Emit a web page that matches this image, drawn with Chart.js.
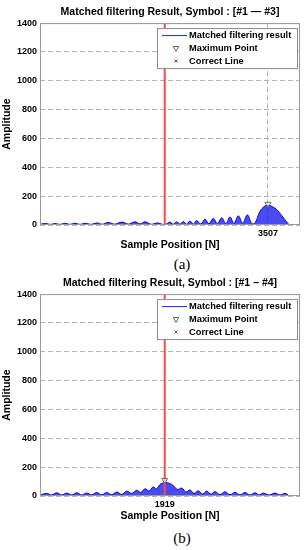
<!DOCTYPE html>
<html>
<head>
<meta charset="utf-8">
<script src="https://cdn.jsdelivr.net/npm/chart.js@4.4.1/dist/chart.umd.min.js"></script>
<style>
  body { margin: 0; background: #fff; }
  #wrap { position: relative; width: 307px; height: 550px; }
  .panel { position: absolute; left: 0; width: 307px; height: 256px; }
  .caption { position: absolute; left: 162px; width: 40px; text-align: center;
             font: 15px "Liberation Serif", "DejaVu Serif", serif; line-height: 15px; color: #000; }
</style>
</head>
<body>
<div id="wrap">
  <div class="panel" style="top:0px"><canvas id="chartA"></canvas></div>
  <div class="caption" style="top:257px">(a)</div>
  <div class="panel" style="top:271px"><canvas id="chartB"></canvas></div>
  <div class="caption" style="top:531px">(b)</div>
</div>
<script>
// Shared axis settings
const xMin = 0;
const xMax = 4000;
const yMax = 1400;
const yStep = 200;
const correctPos = 1919;
const legendLabels = ['Matched filtering result', 'Maximum Point', 'Correct Line'];

// (a) symbols #1 - #3 : envelope of the filter output (sample, amplitude)
const aTitle = 'Matched filtering Result, Symbol : [#1 \u2014 #3]';
const aSamples = [0, 92, 160, 231, 310, 385, 460, 538, 615, 692,
                  785, 877, 960, 1046, 1150, 1262, 1360, 1462, 1540, 1615,
                  1710, 1800, 1919, 2000, 2050, 2103, 2155, 2205, 2255, 2308,
                  2360, 2410, 2475, 2538, 2600, 2666, 2730, 2795, 2860, 2923,
                  2985, 3051, 3120, 3189, 3260, 3310, 3385, 3450, 3507, 3570,
                  3640, 3720, 3780, 3830];
const aAmp = [5, 10, 4, 10, 4, 12, 4, 12, 4, 12,
              4, 14, 5, 18, 6, 20, 6, 22, 7, 22,
              5, 14, 3, 20, 5, 22, 5, 24, 5, 27,
              6, 30, 7, 38, 8, 45, 9, 50, 10, 55,
              11, 63, 12, 70, 10, 15, 95, 128, 138, 128,
              108, 65, 30, 2];
const aMaxPos = 3507;
const aMaxAmp = 145;

// (b) symbols #1 - #4
const bTitle = 'Matched filtering Result, Symbol : [#1 \u2013 #4]';
const bSamples = [0, 103, 180, 257, 334, 411, 488, 565, 641, 718,
                  795, 872, 949, 1026, 1103, 1180, 1257, 1334, 1411, 1488,
                  1550, 1615, 1680, 1738, 1795, 1846, 1919, 1990, 2050, 2115,
                  2180, 2245, 2308, 2370, 2435, 2500, 2565, 2630, 2692, 2770,
                  2846, 2923, 3000, 3077, 3154, 3231, 3308, 3370, 3435, 3525,
                  3615, 3690, 3769, 3830];
const bAmp = [7, 18, 7, 22, 7, 20, 7, 22, 7, 20,
              8, 24, 8, 24, 9, 27, 11, 34, 18, 40,
              25, 50, 35, 62, 50, 80, 92, 88, 72, 45,
              55, 28, 42, 17, 36, 14, 34, 12, 30, 10,
              29, 9, 25, 8, 24, 7, 22, 7, 20, 7,
              20, 7, 18, 2];
const bMaxPos = 1919;
const bMaxAmp = 110;

const fontFamily = '"Liberation Sans", Arial, sans-serif';

// Axes frame plus the boxed legend in the upper right corner
const frameAndLegend = {
    id: 'frameAndLegend',
    afterDatasetsDraw(chart) {
        const { ctx, chartArea: a } = chart;
        ctx.save();
        ctx.setLineDash([]);
        ctx.lineWidth = 1;
        ctx.strokeStyle = '#9a9a9a';
        ctx.strokeRect(a.left + 0.5, a.top + 0.5, a.width - 1, a.height - 1);

        const bx = a.right - 143, by = a.top + 5, bw = 140, bh = 40;
        ctx.fillStyle = '#fff';
        ctx.fillRect(bx, by, bw, bh);
        ctx.strokeStyle = '#8a8a8a';
        ctx.strokeRect(bx + 0.5, by + 0.5, bw, bh);

        const rows = [by + 7, by + 20, by + 33];
        const symX = bx + 19;

        // line sample
        ctx.strokeStyle = '#2020ff';
        ctx.beginPath();
        ctx.moveTo(bx + 5, rows[0] + 0.5);
        ctx.lineTo(bx + 30, rows[0] + 0.5);
        ctx.stroke();

        // triangle marker
        ctx.strokeStyle = '#666';
        ctx.fillStyle = '#fff';
        Chart.helpers.drawPoint(ctx, { pointStyle: 'triangle', rotation: 180, radius: 3.2, borderWidth: 1 }, symX, rows[1]);

        // red x marker
        ctx.strokeStyle = '#ff0000';
        Chart.helpers.drawPoint(ctx, { pointStyle: 'crossRot', rotation: 0, radius: 2, borderWidth: 1 }, symX, rows[2]);

        ctx.fillStyle = '#000';
        ctx.font = 'bold 9.3px ' + fontFamily;
        ctx.textBaseline = 'middle';
        legendLabels.forEach((txt, i) => ctx.fillText(txt, bx + 32, rows[i] + 0.5));
        ctx.restore();
    }
};

function makePoints(xs, ys) {
    return xs.map((x, i) => ({ x: x, y: ys[i] }));
}

function buildChart(id, title, samples, amps, maxPos, maxAmp) {
    const ctx = document.getElementById(id).getContext('2d');
    return new Chart(ctx, {
        type: 'line',
        data: {
            datasets: [{
                label: legendLabels[0],
                data: makePoints(samples, amps),
                borderColor: '#0000ff',
                backgroundColor: 'rgba(30, 30, 240, 0.8)',
                borderWidth: 1,
                pointRadius: 0,
                fill: 'origin',
                tension: 0.4,
                order: 3
            }, {
                label: legendLabels[1],
                data: [{ x: maxPos, y: maxAmp }],
                showLine: false,
                pointStyle: 'triangle',
                rotation: 180,
                pointRadius: 3.5,
                borderWidth: 1,
                borderColor: '#666',
                backgroundColor: 'rgba(255,255,255,0.6)',
                order: 1
            }, {
                label: legendLabels[2],
                data: [{ x: correctPos, y: 0 }, { x: correctPos, y: yMax }],
                borderColor: '#ff4848',
                borderWidth: 2,
                pointRadius: 0,
                fill: false,
                order: 2
            }]
        },
        options: {
            responsive: true,
            maintainAspectRatio: false,
            animation: false,
            events: [],
            layout: { padding: { left: 0, right: 7, top: 0, bottom: 0 } },
            plugins: {
                legend: { display: false },
                tooltip: { enabled: false },
                title: {
                    display: true,
                    fullSize: false,
                    text: title,
                    color: '#000',
                    font: { family: fontFamily, size: 10.5, weight: 'bold' },
                    padding: { top: 5.5, bottom: 5 }
                }
            },
            scales: {
                x: {
                    type: 'linear',
                    min: xMin,
                    max: xMax,
                    afterBuildTicks: (scale) => { scale.ticks = [{ value: maxPos }]; },
                    afterFit: (scale) => { scale.height = 31; },
                    grid: { color: '#b4b4b4', drawTicks: false },
                    border: { display: false, dash: [5, 3] },
                    ticks: {
                        color: '#000',
                        padding: 3,
                        maxRotation: 0,
                        font: { family: fontFamily, size: 9, weight: 'bold' },
                        callback: (v) => String(v)
                    },
                    title: {
                        display: true,
                        text: 'Sample Position [N]',
                        color: '#000',
                        font: { family: fontFamily, size: 10.5, weight: 'bold' },
                        padding: { top: 0, bottom: 5 }
                    }
                },
                y: {
                    min: 0,
                    max: yMax,
                    afterFit: (scale) => { scale.width = 40; },
                    grid: { color: '#b4b4b4', drawTicks: false },
                    border: { display: false, dash: [5, 3] },
                    ticks: {
                        stepSize: yStep,
                        color: '#000',
                        padding: 3,
                        font: { family: fontFamily, size: 9, weight: 'bold' },
                        callback: (v) => String(v)
                    },
                    title: {
                        display: true,
                        text: 'Amplitude',
                        color: '#000',
                        font: { family: fontFamily, size: 10.5, weight: 'bold' },
                        padding: { top: 1, bottom: 0 }
                    }
                }
            }
        },
        plugins: [frameAndLegend]
    });
}

buildChart('chartA', aTitle, aSamples, aAmp, aMaxPos, aMaxAmp);
buildChart('chartB', bTitle, bSamples, bAmp, bMaxPos, bMaxAmp);
</script>
</body>
</html>
